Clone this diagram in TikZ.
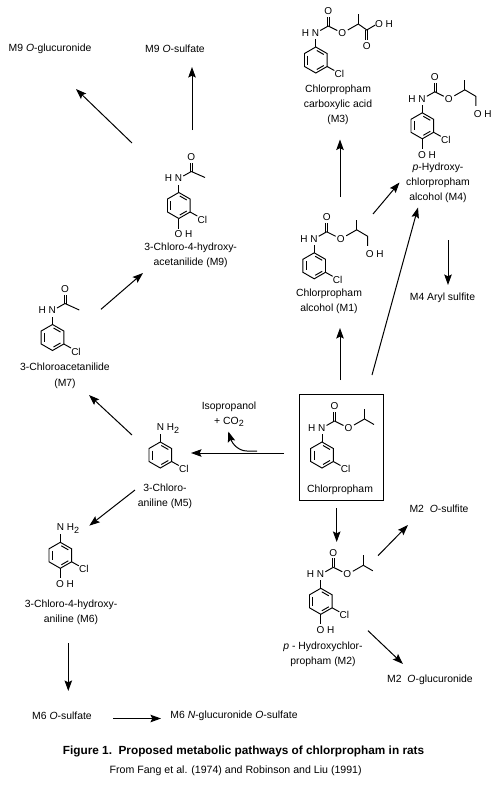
\documentclass[tikz,border=0pt]{standalone}
\usepackage{fontspec}
\setmainfont{Liberation Sans}
\usetikzlibrary{arrows.meta}

\tikzset{
  bond/.style={black, line width=0.95pt},
  rxn/.style={black, line width=1pt, -{Stealth[length=10.5pt,width=7.5pt,inset=1.8pt]}},
  atom/.style={font=\fontsize{10}{12}\selectfont, inner sep=0pt},
  lab/.style={font=\fontsize{10.4}{14.7}\selectfont, align=center, inner sep=0pt},
}

\newcommand{\subtwo}{\raisebox{-2.5pt}{\fontsize{9}{9}\selectfont 2}}

% Benzene ring with its chlorine, origin at the ring centre.
\newcommand{\clring}[1]{%
  \draw[bond] (0,-13) -- (11.3,-6.5) -- (11.3,6.5) -- (0,13) -- (-11.3,6.5) -- (-11.3,-6.5) -- cycle;
  \draw[bond] (-8,-4.5) -- (-8,4.5);
  \draw[bond] (1,-9.5) -- (8,-5.5);
  \draw[bond] (1,9.5) -- (8,5.5);
  \draw[bond] (11.3,6.5) -- (18.5,10.5);
  \node[atom] (#1cl) at (23.5,14) {Cl};
}
% Ring hydroxyl, para position.
\newcommand{\paraoh}[1]{%
  \draw[bond] (0,13) -- (0,23);
  \node[atom] (#1oh) at (4.7,29) {O H};
}
% HN-C(=O) part.
\newcommand{\carbonyl}[1]{%
  \draw[bond] (0,-13) -- (0,-21);
  \node[atom] (#1hn) at (-5.3,-27) {H N};
  \draw[bond] (4.5,-29.5) -- (12.5,-34);
  \draw[bond] (11.7,-34) -- (11.7,-43);
  \draw[bond] (13.7,-34) -- (13.7,-43);
  \node[atom] (#1co) at (12.5,-48.5) {O};
}
% Ester O and the CH with its methyl.
\newcommand{\ester}[1]{%
  \draw[bond] (12.5,-34) -- (21.5,-29.5);
  \node[atom] (#1eo) at (26.5,-27) {O};
  \draw[bond] (32,-30) -- (42.5,-36);
  \draw[bond] (42.5,-36) -- (42.5,-46);
}
% Propanol tail.
\newcommand{\alcoholtail}[1]{%
  \draw[bond] (42.5,-36) -- (53.5,-29.5) -- (53.5,-20);
  \node[atom] (#1toh) at (60.5,-12) {O H};
}

\begin{document}
\begin{tikzpicture}[x=1pt, y=-1pt]
\path[use as bounding box] (0,0) rectangle (492,790);

% Chlorpropham.
\node[draw=black, line width=0.95pt, inner sep=0pt, minimum width=84.4pt, minimum height=105.7pt] (cipcbox) at (341.5,447.2) {};
\begin{scope}[shift={(322,455)}]
  \clring{cipc}
  \carbonyl{cipc}
  \ester{cipc}
  \draw[bond] (42.5,-36) -- (52,-30.5);
\end{scope}
\node[lab] (cipclab) at (340,490) {Chlorpropham};

% M1.
\begin{scope}[shift={(314.2,265.8)}]
  \clring{mone}
  \carbonyl{mone}
  \ester{mone}
  \alcoholtail{mone}
\end{scope}
\node[lab] (monelab) at (329,301) {Chlorpropham\\alcohol (M1)};

% M3.
\begin{scope}[shift={(315.8,60)}]
  \clring{mthree}
  \carbonyl{mthree}
  \ester{mthree}
  \draw[bond] (42.5,-36) -- (51,-30) -- (59.5,-35);
  \draw[bond] (50,-30) -- (50,-20);
  \draw[bond] (52,-30) -- (52,-20);
  \node[atom] (mthreeco) at (51,-14) {O};
  \node[atom] (mthreeoh) at (68.2,-35.7) {O H};
\end{scope}
\node[lab] (mthreelab) at (338,105) {Chlorpropham\\carboxylic acid\\(M3)};

% M4.
\begin{scope}[shift={(422.3,125.8)}]
  \clring{mfour}
  \paraoh{mfour}
  \carbonyl{mfour}
  \ester{mfour}
  \alcoholtail{mfour}
\end{scope}
\node[lab] (mfourlab) at (438,183) {{\itshape p}-Hydroxy-\\chlorpropham\\alcohol (M4)};
\node[lab] (mfoursulf) at (442.5,298) {M4 Aryl sulfite};

% M2.
\begin{scope}[shift={(320.8,601.3)}]
  \clring{mtwo}
  \paraoh{mtwo}
  \carbonyl{mtwo}
  \ester{mtwo}
  \draw[bond] (42.5,-36) -- (52,-30.5);
\end{scope}
\node[lab] (mtwolab) at (323,654.5) {{\itshape p} - Hydroxychlor-\\propham (M2)};
\node[lab] (mtwosulf) at (439,509) {M2\ \ {\itshape O}-sulfite};
\node[lab] (mtwogluc) at (430,680) {M2\ \ {\itshape O}-glucuronide};

% M5.
\begin{scope}[shift={(160.3,455)}]
  \clring{mfive}
  \draw[bond] (0,-13) -- (0,-21);
  \node[atom, anchor=west] (mfivenh) at (-3.6,-26.5) {N H\subtwo};
\end{scope}
\node[lab] (mfivelab) at (165,496.5) {3-Chloro-\\aniline (M5)};
\node[lab] (isolab) at (229,414.5) {Isopropanol\\+ CO\subtwo};

% M6.
\begin{scope}[shift={(60.3,555.3)}]
  \clring{msix}
  \paraoh{msix}
  \draw[bond] (0,-13) -- (0,-21);
  \node[atom, anchor=west] (msixnh) at (-3.6,-26.5) {N H\subtwo};
\end{scope}
\node[lab] (msixlab) at (71,612.5) {3-Chloro-4-hydroxy-\\aniline (M6)};
\node[lab] (msixsulf) at (62,716) {M6 {\itshape O}-sulfate};
\node[lab] (msixngs) at (234,716) {M6 {\itshape N}-glucuronide {\itshape O}-sulfate};

% M7.
\begin{scope}[shift={(52.5,337.5)}]
  \clring{mseven}
  \carbonyl{mseven}
  \draw[bond] (12.5,-34) -- (26.8,-27.5);
\end{scope}
\node[lab] (msevenlab) at (65,376) {3-Chloroacetanilide\\[1pt](M7)};

% M9.
\begin{scope}[shift={(178.8,205.5)}]
  \clring{mnine}
  \paraoh{mnine}
  \carbonyl{mnine}
  \draw[bond] (12.5,-34) -- (26.2,-28);
\end{scope}
\node[lab] (mninelab) at (190.7,255.3) {3-Chloro-4-hydroxy-\\acetanilide (M9)};
\node[lab] (mninegluc) at (50,49) {M9 {\itshape O}-glucuronide};
\node[lab] (mninesulf) at (175,49) {M9 {\itshape O}-sulfate};

% Caption.
\node[font=\fontsize{11.8}{14}\selectfont\bfseries, inner sep=0pt] (figtitle) at (243.5,751.7) {Figure 1.\ \ Proposed metabolic pathways of chlorpropham in rats};
\node[lab, font=\fontsize{10.6}{14}\selectfont] (figsource) at (235.7,770.7) {From Fang et al. (1974) and Robinson and Liu (1991)};

% Reaction arrows.
\foreach \rx/\xa/\ya/\xb/\yb in {
  monethree/340/197/340/139.5,
  monefour/373/214/399.5/182.5,
  cipcone/340/380/340/328,
  cipcfour/372/375/418/207.5,
  foursulf/448/240/448/285,
  cipctwo/336.7/508/336.7/542,
  twosulf/378/555.7/408/525,
  twogluc/368/630.7/403/664,
  cipcfive/284/453/191/453,
  fiveseven/132/435/89/395,
  sevennine/101/309.3/143/273,
  ninesulf/192/130/192/67,
  ninegluc/132/143/76/89,
  fivesix/135/490/89.3/525.7,
  sixsulf/68.3/643/68.3/691,
  sixngs/113.3/718.5/161/718.5%
} {
  \coordinate (\rx s) at (\xa,\ya);
  \coordinate (\rx e) at (\xb,\yb);
  \draw[rxn] (\rx s) -- (\rx e);
}
% Isopropanol loss.
\coordinate (isos) at (257,451);
\coordinate (isoe) at (228.3,431.5);
\draw[rxn] (isos) -- (247,451) .. controls (238,451) and (232,443) .. (isoe);

\end{tikzpicture}
\end{document}
